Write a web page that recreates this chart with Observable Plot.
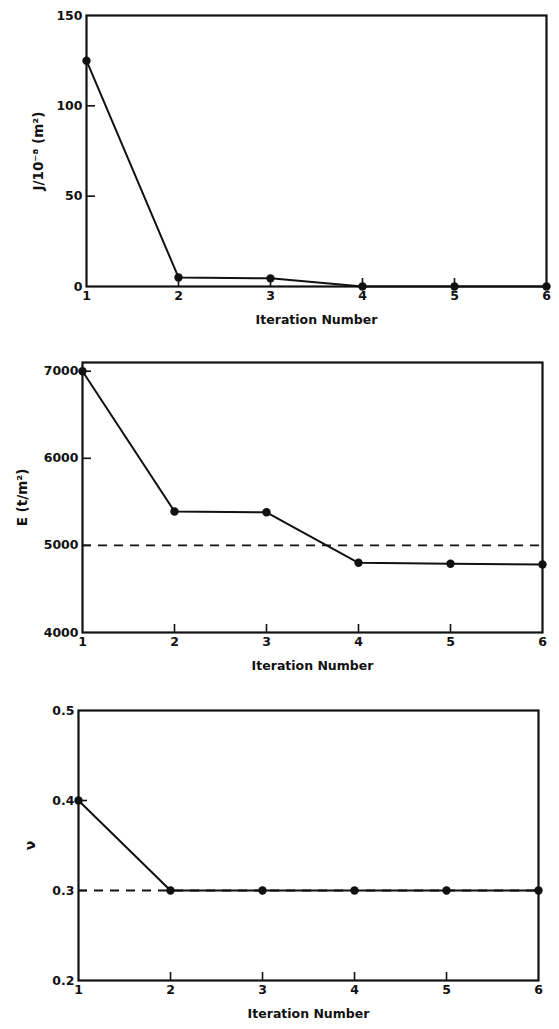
<!DOCTYPE html>
<html>
<head>
<meta charset="utf-8">
<script src="https://cdn.jsdelivr.net/npm/d3@7"></script>
<script src="https://cdn.jsdelivr.net/npm/@observablehq/plot@0.6"></script>
<style>
  html, body { margin: 0; padding: 0; background: #fff; }
  #chart svg { display: block; }
</style>
</head>
<body>
<div id="chart"></div>
<script>
// ---- data ----
const iterations = [1, 2, 3, 4, 5, 6];
const jValues = [125, 5, 4.5, 0, 0, 0];          // J/10^-8 (m^2)
const eValues = [7000, 5390, 5380, 4800, 4790, 4780]; // E (t/m^2)
const nuValues = [0.4, 0.3, 0.3, 0.3, 0.3, 0.3];  // Poisson's ratio
const eTrue = [5000];
const nuTrue = [0.3];
const jTicks = [0, 50, 100, 150];
const eTicks = [4000, 5000, 6000, 7000];
const nuTicks = [0.2, 0.3, 0.4, 0.5];
const xLabel = "Iteration Number";

const font = "'DejaVu Sans', sans-serif";

function panel({values, yDomain, yTicks, yFormat, yLabel, yLabelOffset, yLabelSize, ref, height, mt, mb, ml, mr}) {
  const data = iterations.map((x, i) => ({x, y: values[i]}));
  const inner = yTicks.filter(t => t > yDomain[0] && t < yDomain[1]);
  const marks = [];
  if (ref) marks.push(Plot.ruleY(ref, {stroke: "#111", strokeWidth: 1.8, strokeDasharray: "9,7"}));
  marks.push(
    Plot.frame({stroke: "#111", strokeWidth: 2.2}),
    Plot.axisX({ticks: iterations.slice(1, -1), tickSize: -8, text: null, label: null, stroke: "#111", strokeWidth: 1.6}),
    Plot.axisX({ticks: iterations, tickSize: 0, tickPadding: 5, tickFormat: d3.format("d"), label: xLabel, labelAnchor: "center", labelOffset: 37, labelArrow: "none", fontSize: 12.5}),
    Plot.axisY({ticks: inner, tickSize: -9, text: null, label: null, stroke: "#111", strokeWidth: 1.6}),
    Plot.axisY({ticks: yTicks, tickSize: 0, tickPadding: 4, tickFormat: yFormat, label: null, fontSize: 12.5}),
    Plot.axisY({ticks: [], tickSize: 0, label: yLabel, labelAnchor: "center", labelOffset: yLabelOffset, labelArrow: "none", fontSize: yLabelSize}),
    Plot.line(data, {x: "x", y: "y", stroke: "#111", strokeWidth: 2}),
    Plot.dot(data, {x: "x", y: "y", r: 4.2, fill: "#111", stroke: "none"})
  );
  return Plot.plot({
    width: 559,
    height,
    marginTop: mt, marginBottom: mb, marginLeft: ml, marginRight: mr,
    style: {fontFamily: font, fontSize: "12.5px", fontWeight: "bold", color: "#111", background: "#fff", overflow: "visible"},
    x: {domain: [1, 6]},
    y: {domain: yDomain},
    marks
  });
}

const root = document.getElementById("chart");
root.append(panel({
  values: jValues, yDomain: [0, 150], yTicks: jTicks, yFormat: d3.format("d"),
  yLabel: "J/10⁻⁸ (m²)", yLabelOffset: 53, yLabelSize: 13.5, ref: null,
  height: 340, mt: 15, mb: 54, ml: 86, mr: 13
}));
root.append(panel({
  values: eValues, yDomain: [4000, 7100], yTicks: eTicks, yFormat: d3.format("d"),
  yLabel: "E (t/m²)", yLabelOffset: 65, yLabelSize: 13.5, ref: eTrue,
  height: 350, mt: 22, mb: 58, ml: 82, mr: 17
}));
root.append(panel({
  values: nuValues, yDomain: [0.2, 0.5], yTicks: nuTicks, yFormat: d3.format(".1f"),
  yLabel: "ν", yLabelOffset: 53, yLabelSize: 14, ref: nuTrue,
  height: 339, mt: 20, mb: 49, ml: 78, mr: 21
}));
</script>
</body>
</html>
